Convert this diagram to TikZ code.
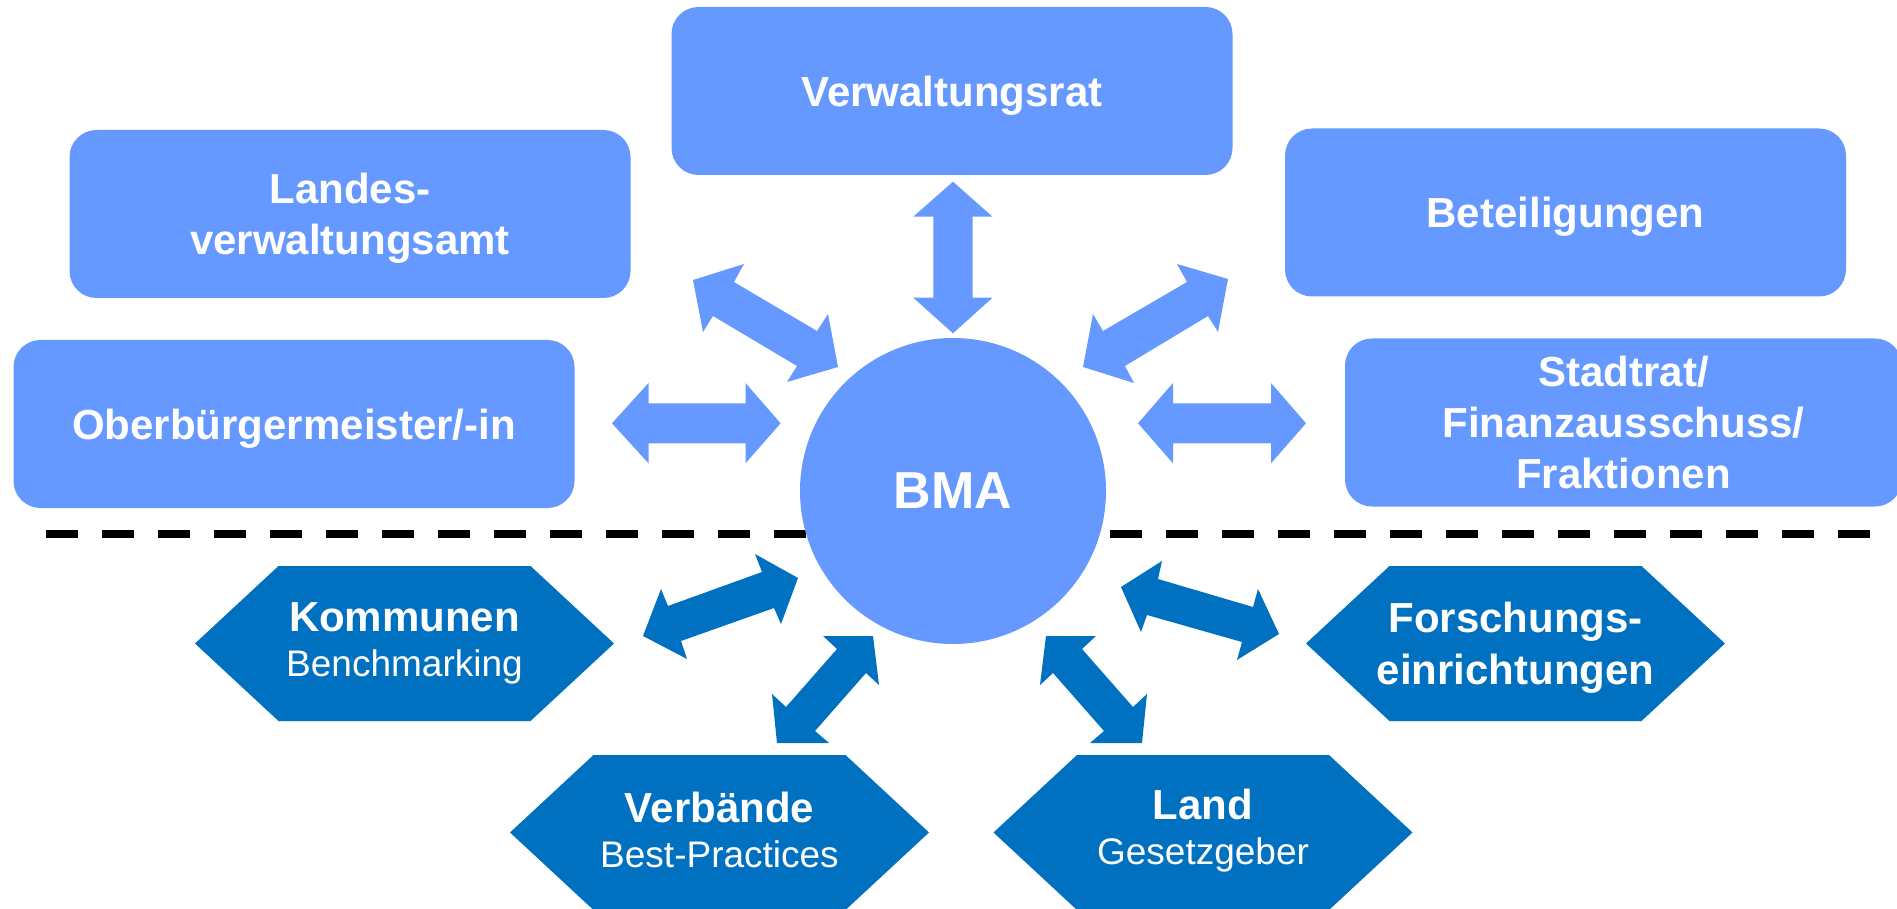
\documentclass[tikz,border=0pt]{standalone}
\usepackage{fontspec}
\setmainfont{Liberation Sans}
\definecolor{lightblue}{RGB}{102,153,255}
\definecolor{darkblue}{RGB}{0,112,192}
\begin{document}
\begin{tikzpicture}[x=0.5pt,y=-0.5pt,
  lbox/.style={fill=lightblue, rounded corners=13.5pt, minimum width=280.5pt, minimum height=84pt,
    inner sep=0pt, text=white, align=center, font=\bfseries\fontsize{21}{25.5}\selectfont},
  hexa/.style={minimum width=209.5pt, minimum height=77.5pt, inner sep=0pt, text=white, align=center,
    font=\fontsize{18.5}{22.5}\selectfont,
    path picture={\fill[darkblue] (path picture bounding box.west)
      -- ([xshift=41.75pt]path picture bounding box.north west)
      -- ([xshift=-41.75pt]path picture bounding box.north east)
      -- (path picture bounding box.east)
      -- ([xshift=-41.75pt]path picture bounding box.south east)
      -- ([xshift=41.75pt]path picture bounding box.south west) -- cycle;}},
  larrow/.style={fill=lightblue},
  darrow/.style={fill=darkblue},
  sep/.style={line width=4pt, dash pattern=on 16pt off 12pt}]
\useasboundingbox (0,0) rectangle (1897,909);

% dashed separator
\coordinate (dl) at (45.5,534);
\coordinate (dr) at (1869.5,534);
\draw[sep] (dl) -- (dr);

% centre
\node[circle, fill=lightblue, minimum size=153pt, inner sep=0pt, text=white,
  font=\bfseries\fontsize{26}{30}\selectfont] (bma) at (953,491) {BMA};

% upper boxes
\node[lbox, text depth=0pt] (vr) at (952,91) {Verwaltungsrat};
\node[lbox, text depth=0pt] (lva) at (350,214) {Landes-\\verwaltungsamt};
\node[lbox, text depth=0pt] (ob) at (294,424) {Oberbürgermeister/-in};
\node[lbox, text depth=0pt] (bet) at (1565.5,212.5) {Beteiligungen};
\node[lbox, text depth=0pt, minimum width=278.5pt] (st) at (1623.5,422.5) {Stadtrat/\\Finanzausschuss/\\Fraktionen};

% lower hexagons
\node[hexa] (kom) at (404.5,643.5) {{\bfseries\fontsize{21}{22.5}\selectfont Kommunen}\\Benchmarking};
\node[hexa, text depth=3pt] (verb) at (719.5,832.5) {{\bfseries\fontsize{21}{22.5}\selectfont Verbände}\\Best-Practices};
\node[hexa, text depth=5.5pt] (land) at (1203,832.5) {{\bfseries\fontsize{21}{22.5}\selectfont Land}\\Gesetzgeber};
\node[hexa, text depth=0pt, font=\bfseries\fontsize{21}{26}\selectfont] (fors) at (1515.5,643.5) {Forschungs-\\einrichtungen};

% light block arrows
\fill[larrow] (612,423.3) -- (648.5,383) -- (648.5,403.3) -- (745.5,403.3) -- (745.5,383) -- (780.6,423.3)
  -- (745.5,463.3) -- (745.5,443.3) -- (648.5,443.3) -- (648.5,463.3) -- cycle;
\fill[larrow] (953,181.7) -- (992.5,216.7) -- (972.5,216.7) -- (972.5,297.7) -- (992.5,297.7) -- (953,333.3)
  -- (913.3,297.7) -- (933.3,297.7) -- (933.3,216.7) -- (913.3,216.7) -- cycle;
\fill[larrow] (693,280) -- (744,264) -- (734,282) -- (817,331) -- (828,314) -- (838,367)
  -- (787,382) -- (797,366) -- (713,316) -- (703,332) -- cycle;
\fill[larrow] (1228,279) -- (1218,332) -- (1208,316) -- (1125,366) -- (1134,383) -- (1083,367)
  -- (1093,314) -- (1103,331) -- (1187,282) -- (1177,264) -- cycle;
\fill[larrow] (1138,423.3) -- (1173,383) -- (1173,403.3) -- (1271,403.3) -- (1271,383) -- (1306,423.3)
  -- (1271,463.3) -- (1271,443.3) -- (1173,443.3) -- (1173,463.3) -- cycle;

% dark block arrows
\fill[darrow] (798,578) -- (755,554) -- (762,572) -- (668,606) -- (661,589) -- (643,636)
  -- (687,659) -- (681,641) -- (774,608) -- (781,624) -- cycle;
\fill[darrow] (823,636) -- (873,636) -- (879,685) -- (866,673) -- (815,731) -- (829,743)
  -- (777,743) -- (772,694) -- (786,707) -- (837,649) -- cycle;
\fill[darrow] (1096,636) -- (1046,636) -- (1040,685) -- (1053,673) -- (1104,731) -- (1090,743)
  -- (1142,743) -- (1147,694) -- (1133,707) -- (1082,649) -- cycle;
\fill[darrow] (1121,587) -- (1162,561) -- (1158,579) -- (1253,607) -- (1258,589) -- (1279,634)
  -- (1237,660) -- (1242,642) -- (1147,615) -- (1141,632) -- cycle;
\end{tikzpicture}
\end{document}
